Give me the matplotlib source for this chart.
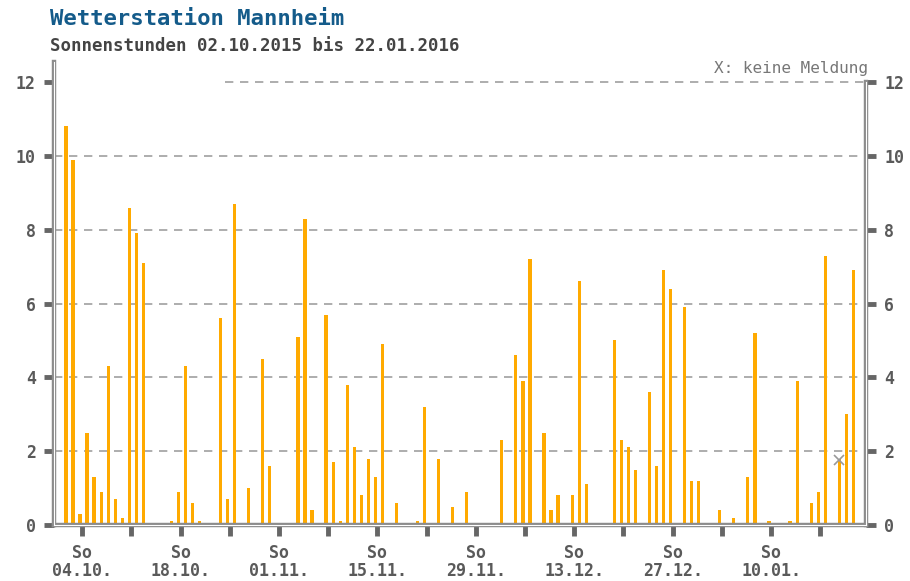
import numpy as np
import pandas as pd
import matplotlib
matplotlib.use('Agg')
import matplotlib.pyplot as plt

# sunshine hours per day, 02.10.2015 .. 22.01.2016 (None = keine Meldung)
start_date = '2015-10-02'
sun_hours = [10.8, 9.9, 0.3, 2.5, 1.3, 0.9, 4.3, 0.7, 0.2, 8.6,
             7.9, 7.1, 0, 0, 0, 0.1, 0.9, 4.3, 0.6, 0.1,
             0, 0, 5.6, 0.7, 8.7, 0, 1.0, 0, 4.5, 1.6,
             0, 0, 0, 5.1, 8.3, 0.4, 0, 5.7, 1.7, 0.1,
             3.8, 2.1, 0.8, 1.8, 1.3, 4.9, 0, 0.6, 0, 0,
             0.1, 3.2, 0, 1.8, 0, 0.5, 0, 0.9, 0, 0,
             0, 0, 2.3, 0, 4.6, 3.9, 7.2, 0, 2.5, 0.4,
             0.8, 0, 0.8, 6.6, 1.1, 0, 0, 0, 5.0, 2.3,
             2.1, 1.5, 0, 3.6, 1.6, 6.9, 6.4, 0, 5.9, 1.2,
             1.2, 0, 0, 0.4, 0, 0.2, 0, 1.3, 5.2, 0,
             0.1, 0, 0, 0.1, 3.9, 0, 0.6, 0.9, 7.3, 0,
             1.8, 3.0, 6.9]
missing_day = 110
missing_y = 1.75
y_ticks = [0, 2, 4, 6, 8, 10, 12]

title = 'Wetterstation Mannheim'
subtitle = 'Sonnenstunden 02.10.2015 bis 22.01.2016'
legend_txt = 'X: keine Meldung'

dates = pd.date_range(start_date, periods=len(sun_hours), freq='D')
days = np.arange(len(sun_hours))
vals = np.array([0 if v is None else v for v in sun_hours], dtype=float)

mono = 'DejaVu Sans Mono'
gray = '#5a5a5a'
frame = '#8c8c8c'

fig = plt.figure(figsize=(9.1, 5.81), dpi=100)
ax = fig.add_axes([54 / 910, 1 - 525 / 581, 812 / 910, 443 / 581])

ax.bar(days, vals, width=0.45, color='#ffaa00', edgecolor='none', zorder=3)
ax.plot([missing_day - 0.1], [missing_y], marker='x', color='#999999', markersize=7, mew=1.2, zorder=4)

ax.set_xlim(-1.7, 113.8)
ax.set_ylim(0, 12)

# dashed grid
for yv in y_ticks[1:-1]:
    ax.axhline(yv, color='#a0a0a0', lw=1.2, ls=(0, (5, 4)), zorder=1)
ax.plot([(225 - 54) / 812, 1], [1, 1], transform=ax.transAxes, color='#a0a0a0', lw=1.2,
        ls=(0, (5, 4)), clip_on=False, zorder=1)

# frame: double gray line
for s in ['top', 'left', 'right', 'bottom']:
    ax.spines[s].set_visible(False)
top_ext = 1 + 20 / 443
ax.plot([0, 0], [0, top_ext], transform=ax.transAxes, color=frame, lw=3.2, clip_on=False, zorder=5)
ax.plot([1, 1], [0, 1], transform=ax.transAxes, color=frame, lw=3.2, clip_on=False, zorder=5)
ax.plot([0, 1], [0, 0], transform=ax.transAxes, color=frame, lw=3.2, clip_on=False, zorder=5)
ax.plot([0, 0], [0, top_ext], transform=ax.transAxes, color='white', lw=0.8, clip_on=False, zorder=6)
ax.plot([1, 1], [0, 1], transform=ax.transAxes, color='white', lw=0.8, clip_on=False, zorder=6)
ax.plot([0, 1], [0, 0], transform=ax.transAxes, color='white', lw=0.8, clip_on=False, zorder=6)

# y ticks both sides
ax.set_yticks(y_ticks)
ax.set_yticklabels([str(t) for t in y_ticks])
ax.tick_params(axis='y', which='both', left=True, right=True, labelleft=True, labelright=True,
               length=7, width=3.5, color='#666666', pad=6, labelcolor=gray, labelsize=12)
for lbl in ax.get_yticklabels():
    lbl.set_fontfamily(mono)
    lbl.set_fontweight('bold')

# x ticks on Sundays, label every second one
sundays = [i for i, d in enumerate(dates) if d.dayofweek == 6]
tick_pos = [i + 0.3 for i in sundays]
tick_lab = []
for k, i in enumerate(sundays):
    if k % 2 == 0:
        tick_lab.append('So\n' + dates[i].strftime('%d.%m.'))
    else:
        tick_lab.append('')
ax.set_xticks(tick_pos)
ax.set_xticklabels(tick_lab, fontfamily=mono, fontweight='bold', fontsize=12, color=gray,
                   linespacing=1.0)
ax.tick_params(axis='x', length=8, width=3.5, color='#666666', pad=6)

fig.text(50 / 910, 1 - 19 / 581, title, fontfamily=mono, fontweight='bold', fontsize=16,
         color='#145b8a', va='center', ha='left')
fig.text(50 / 910, 1 - 46 / 581, subtitle, fontfamily=mono, fontweight='bold', fontsize=12.5,
         color='#444444', va='center', ha='left')
fig.text(868 / 910, 1 - 68 / 581, legend_txt, fontfamily=mono, fontsize=11.5,
         color='#777777', va='center', ha='right')

fig.savefig('out.png', dpi=100)
